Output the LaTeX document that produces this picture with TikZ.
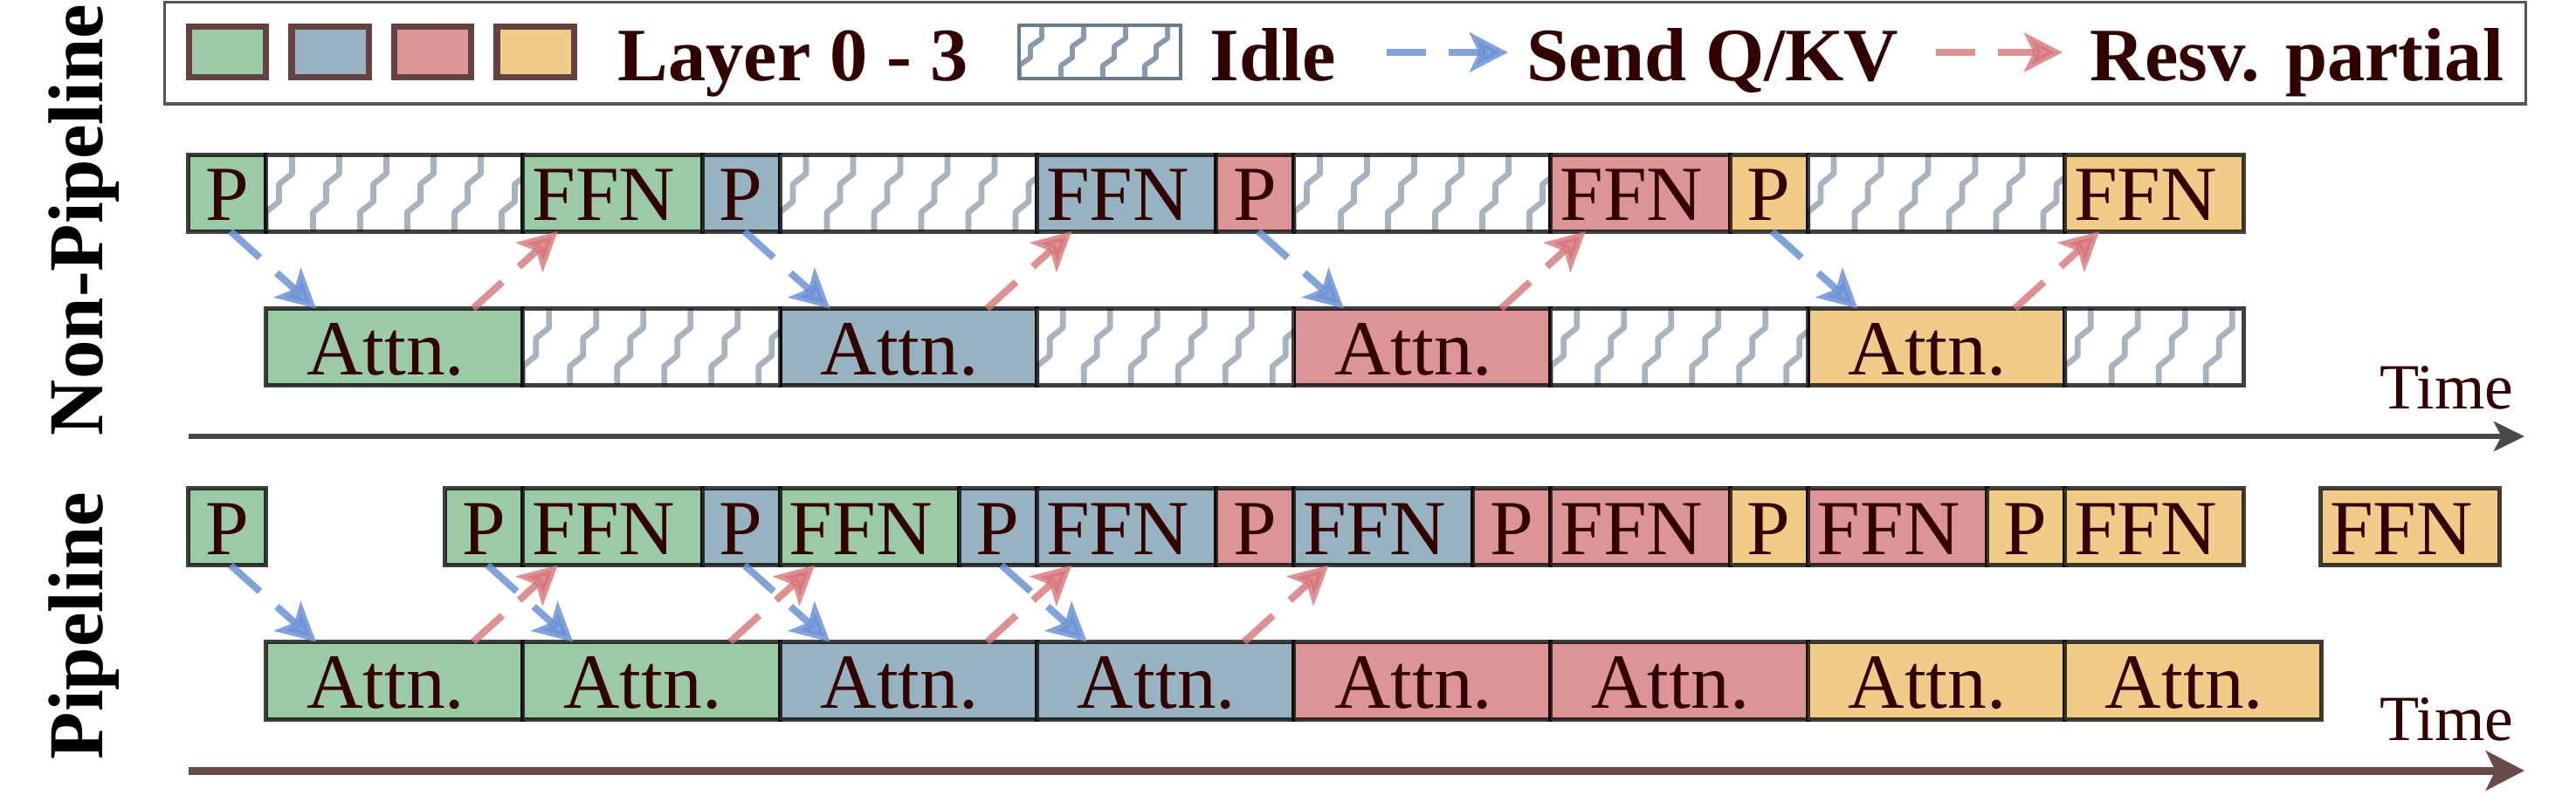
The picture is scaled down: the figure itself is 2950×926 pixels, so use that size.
\documentclass[tikz,border=0pt]{standalone}
\usepackage{fontspec}
\setmainfont{Liberation Serif}
\usetikzlibrary{arrows.meta,calc}
\definecolor{cgreen}{RGB}{154,203,164}
\definecolor{cblue}{RGB}{151,179,193}
\definecolor{cred}{RGB}{220,148,151}
\definecolor{cyellow}{RGB}{241,204,136}
\definecolor{txt}{RGB}{51,0,0}
\definecolor{zigc}{RGB}{138,154,170}
\definecolor{sendc}{RGB}{108,146,214}
\definecolor{resvc}{RGB}{214,117,120}
\definecolor{axisA}{RGB}{74,74,74}
\definecolor{axisB}{RGB}{107,74,74}
\definecolor{lgborder}{RGB}{85,85,85}
\definecolor{sqborder}{RGB}{100,66,66}
\definecolor{idleborder}{RGB}{106,122,138}
\newcommand\celltxt[1]{#1\kern0.2cm}
\begin{document}
\begin{tikzpicture}[x=0.01cm,y=-0.01cm,
  cellbox/.style={draw=black, draw opacity=0.75, line width=1.42pt, inner sep=0pt, outer sep=0pt,
    anchor=north west, minimum height=0.88cm, text height=18pt, text depth=0pt, text=txt,
    font=\fontsize{25.4}{29}\selectfont},
  pw/.style={minimum width=0.89cm},
  aw/.style={minimum width=2.9425cm},
  fw/.style={minimum width=2.0525cm},
  idle/.style={fill=white, path picture={
    \foreach \k in {-1,...,6}{
      \draw[zigc, line width=1.9pt, line join=round] ($(path picture bounding box.south west)+(\k*54,0)$)
        -- ++(0,-22) -- ++(15,-12) -- ++(0,-20) -- ++(15,-12) -- ++(0,-24);}}},
  idlelg/.style={draw=idleborder, line width=1.1pt, inner sep=0pt, outer sep=0pt, anchor=north west,
    minimum width=1.85cm, minimum height=0.61cm, fill=white, path picture={
    \foreach \k in {-1,...,4}{
      \draw[zigc, line width=1.7pt, line join=round] ($(path picture bounding box.south west)+(\k*48,0)$)
        -- ++(0,-15) -- ++(13,-9) -- ++(0,-13) -- ++(13,-9) -- ++(0,-17);}}},
  lsq/.style={draw=sqborder, line width=2pt, inner sep=0pt, outer sep=0pt, anchor=north west,
    minimum width=0.88cm, minimum height=0.58cm},
  ltext/.style={anchor=base west, inner sep=0pt, text=txt, font=\bfseries\fontsize{24.6}{28}\selectfont},
  sidelbl/.style={rotate=90, anchor=base, inner sep=0pt, font=\bfseries\fontsize{25.3}{30}\selectfont},
  timelbl/.style={anchor=base east, inner sep=0pt, text=txt, font=\fontsize{21}{24}\selectfont},
  sendarr/.style={draw=sendc, opacity=0.85, line width=2.3pt, dash pattern=on 12.8pt off 7.4pt,
    -{Stealth[length=12.5pt,width=12.8pt,inset=3pt,fill=sendc]}},
  resvarr/.style={draw=resvc, opacity=0.8, line width=2.3pt, dash pattern=on 12.8pt off 7.4pt,
    -{Stealth[length=12.5pt,width=12.8pt,inset=3pt,fill=resvc]}}
]
\useasboundingbox (0,0) rectangle (2950,926);

% ---------- legend ----------
\node[draw=lgborder, line width=1pt, inner sep=0pt, outer sep=0pt, anchor=north west,
  minimum width=27.025cm, minimum height=1.165cm] (legend) at (188.5,2.5) {};
\foreach \i/\c in {0/cgreen,1/cblue,2/cred,3/cyellow}{
  \node[lsq, fill=\c] (sq\i) at (216.5+\i*117.5,30.5) {};
}
\node[ltext] (tlayer) at (707,92) {Layer 0 - 3};
\node[idlelg] (lidle) at (1167,29) {};
\node[ltext] (tidle) at (1385,92) {Idle};
\coordinate (ls1) at (1588,60);
\coordinate (ls2) at (1727,60);
\draw[sendarr] (ls1) -- (ls2);
\node[ltext] (tsend) at (1748,92) {Send Q/KV};
\coordinate (lr1) at (2217,60);
\coordinate (lr2) at (2362,60);
\draw[resvarr] (lr1) -- (lr2);
\node[ltext] (tresv) at (2393,92) {Resv. partial};

% ---------- side labels ----------
\node[sidelbl] (lnp) at (117,252) {Non-Pipeline};
\node[sidelbl] (lp) at (117,717) {Pipeline};

% ---------- non-pipeline ----------
\foreach \k/\c in {0/cgreen,1/cblue,2/cred,3/cyellow}{
  \pgfmathsetmacro\xs{215.5+\k*588.5}
  \node[cellbox,pw,fill=\c] (np\k) at (\xs,177) {P};
  \node[cellbox,aw,idle] (ni\k) at (\xs+89,177) {};
  \node[cellbox,fw,fill=\c] (nf\k) at (\xs+383.25,177) {\celltxt{FFN}};
}
\foreach \k/\c in {0/cgreen,1/cblue,2/cred,3/cyellow}{
  \node[cellbox,aw,fill=\c] (na\k) at (304.5+\k*588.5,353.5) {\celltxt{Attn.}};
}
\foreach \k in {0,1,2}{
  \node[cellbox,aw,idle] (nj\k) at (598.75+\k*588.5,353.5) {};
}
\node[cellbox,fw,idle] (nj3) at (2364.25,353.5) {};
\foreach \k in {0,...,3}{
  \draw[sendarr] ([xshift=0.04cm]np\k.south) -- ([xshift=0.575cm]na\k.north west);
  \draw[resvarr] ([xshift=-0.57cm]na\k.north east) -- ([xshift=0.4cm]nf\k.south west);
}
\coordinate (t1s) at (216,500);
\coordinate (t1e) at (2891,500);
\draw[axisA, line width=1.7pt, -{Stealth[length=10pt,width=9.7pt,inset=2.5pt]}] (t1s) -- (t1e);
\node[timelbl] (time1) at (2879,468) {Time};

% ---------- pipeline ----------
\node[cellbox,pw,fill=cgreen] (pp) at (215.5,559.5) {P};
\foreach \m/\cp/\cf in {0/cgreen/cgreen,1/cblue/cgreen,2/cblue/cblue,3/cred/cblue,4/cred/cred,5/cyellow/cred,6/cyellow/cyellow}{
  \pgfmathsetmacro\xs{509.75+\m*294.25}
  \node[cellbox,pw,fill=\cp] (pp\m) at (\xs,559.5) {P};
  \node[cellbox,fw,fill=\cf] (pf\m) at (\xs+89,559.5) {\celltxt{FFN}};
}
\node[cellbox,fw,fill=cyellow] (pf7) at (2657.5,559.5) {\celltxt{FFN}};
\foreach \j/\c in {0/cgreen,1/cgreen,2/cblue,3/cblue,4/cred,5/cred,6/cyellow,7/cyellow}{
  \node[cellbox,aw,fill=\c,minimum height=0.89cm] (pa\j) at (304.5+\j*294.25,735.5) {\celltxt{Attn.}};
}
\draw[sendarr] ([xshift=0.04cm]pp.south) -- ([xshift=0.575cm]pa0.north west);
\foreach \j/\i in {0/1,1/2,2/3}{
  \draw[sendarr] ([xshift=0.04cm]pp\j.south) -- ([xshift=0.575cm]pa\i.north west);
}
\foreach \j in {0,...,3}{
  \draw[resvarr] ([xshift=-0.57cm]pa\j.north east) -- ([xshift=0.4cm]pf\j.south west);
}
\coordinate (t2s) at (216,883);
\coordinate (t2e) at (2891,883);
\draw[axisB, line width=2.56pt, -{Stealth[length=12.5pt,width=12.8pt,inset=3pt]}] (t2s) -- (t2e);
\node[timelbl] (time2) at (2879,848) {Time};
\end{tikzpicture}
\end{document}
